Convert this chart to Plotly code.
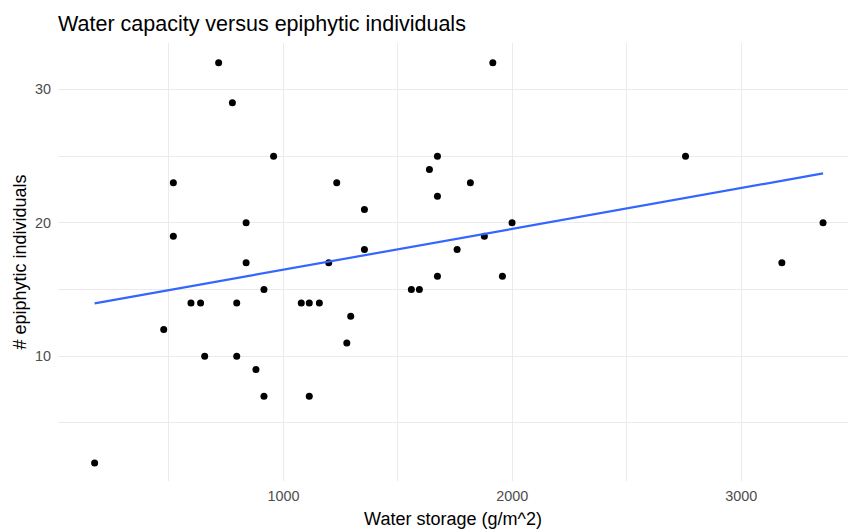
import numpy as np
import plotly.graph_objects as go

# Data
water_storage = [175, 477, 519, 519, 596, 638, 656, 717, 777, 796, 796, 837, 837, 880,
                 915, 915, 957, 1078, 1113, 1113, 1157, 1198, 1233, 1277, 1294, 1354,
                 1354, 1559, 1594, 1638, 1673, 1673, 1673, 1759, 1817, 1878, 1915, 1957,
                 1999, 2757, 3178, 3358]
epiphytes = [2, 12, 23, 19, 14, 14, 10, 32, 29, 14, 10, 20, 17, 9,
             15, 7, 25, 14, 14, 7, 14, 17, 23, 11, 13, 21,
             18, 15, 15, 24, 25, 22, 16, 18, 23, 19, 32, 16,
             20, 25, 17, 20]

x_major = [1000, 2000, 3000]
x_minor = [500, 1500, 2500, 3500]
y_major = [10, 20, 30]
y_minor = [5, 15, 25]

# Linear fit (like geom_smooth(method = "lm", se = FALSE))
xa = np.array(water_storage, dtype=float)
ya = np.array(epiphytes, dtype=float)
slope, intercept = np.polyfit(xa, ya, 1)
fx = np.linspace(xa.min(), xa.max(), 80)
fy = slope * fx + intercept

FONT = "Liberation Sans, Arial, sans-serif"
GRID = "#EBEBEB"

fig = go.Figure()
fig.add_trace(go.Scatter(x=water_storage, y=epiphytes, mode="markers",
                         marker=dict(color="black", size=7, line=dict(width=0)),
                         showlegend=False, hoverinfo="x+y"))
fig.add_trace(go.Scatter(x=fx, y=fy, mode="lines",
                         line=dict(color="#3366FF", width=2.2),
                         showlegend=False, hoverinfo="skip"))

fig.update_layout(
    width=848, height=529,
    margin=dict(l=58, r=0, t=43, b=48),
    plot_bgcolor="white", paper_bgcolor="white",
    font=dict(family=FONT),
    title=dict(text="Water capacity versus epiphytic individuals",
               x=58 / 848, xref="container", xanchor="left",
               y=1 - 23 / 529, yref="container", yanchor="middle",
               font=dict(size=21.5, color="black", family=FONT)),
    xaxis=dict(range=[15, 3467], tickmode="array", tickvals=x_major,
               ticktext=[str(v) for v in x_major],
               showgrid=True, gridcolor=GRID, gridwidth=1.2,
               zeroline=False, showline=False, ticks="",
               ticklabelstandoff=5,
               tickfont=dict(size=14.4, color="#4D4D4D"),
               minor=dict(tickmode="array", tickvals=x_minor, showgrid=True,
                          gridcolor=GRID, gridwidth=1),
               title=dict(text="Water storage (g/m^2)", standoff=8,
                          font=dict(size=18, color="black"))),
    yaxis=dict(range=[0.65, 33.48], tickmode="array", tickvals=y_major,
               ticktext=[str(v) for v in y_major],
               showgrid=True, gridcolor=GRID, gridwidth=1.2,
               zeroline=False, showline=False, ticks="",
               ticklabelstandoff=6,
               tickfont=dict(size=14.4, color="#4D4D4D"),
               minor=dict(tickmode="array", tickvals=y_minor, showgrid=True,
                          gridcolor=GRID, gridwidth=1),
               title=dict(text="# epiphytic individuals", standoff=3,
                          font=dict(size=18, color="black"))),
)

fig.write_html("out.html")
